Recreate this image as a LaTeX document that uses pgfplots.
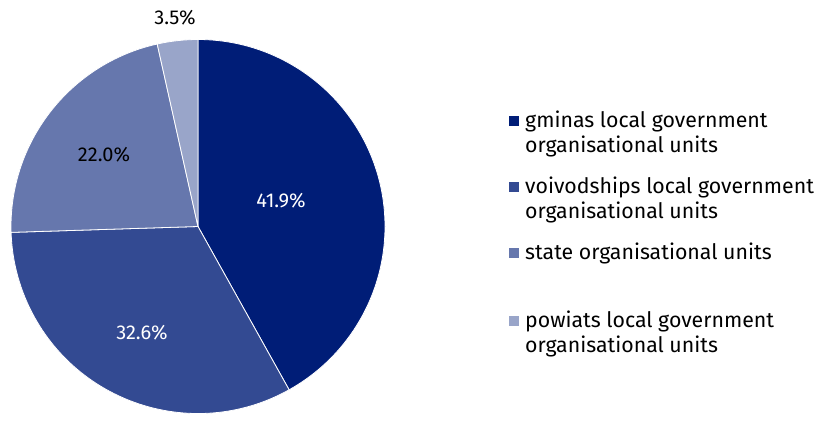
\documentclass[border=0pt]{standalone}
\usepackage{fontspec}
\setmainfont{Fira Sans}
\usepackage{pgfplots}
\usepackage{pgfplotstable}
\pgfplotsset{compat=1.18}
\definecolor{c1}{HTML}{001D77}
\definecolor{c2}{HTML}{334A92}
\definecolor{c3}{HTML}{6677AD}
\definecolor{c4}{HTML}{99A5C9}

% share of units, clockwise from the top
\pgfplotstableread{
v c lx ly tc
41.9 c1 281 211 white
32.6 c2 142 79 white
22.0 c3 104 257 black
3.5 c4 175 394 black
}\piedata

\begin{document}
\begin{tikzpicture}
\begin{axis}[
  scale only axis, width=817pt, height=412pt,
  xmin=0, xmax=817, ymin=0, ymax=412,
  hide axis, clip=false,
  /pgf/number format/assume math mode=true,
]
\pgfplotsextra{
  \path (axis cs:0,0) rectangle (axis cs:817,412);
  \gdef\startang{90}
  \foreach \i in {0,...,3}{
    \pgfplotstablegetelem{\i}{v}\of\piedata \let\val\pgfplotsretval
    \pgfplotstablegetelem{\i}{c}\of\piedata \let\col\pgfplotsretval
    \pgfmathsetmacro\endang{\startang-3.6*\val}
    \fill[\col, draw=white, line width=0.8pt, line join=round]
      (axis cs:198,185.5) -- ++(\startang:187pt)
      arc[start angle=\startang, end angle=\endang, radius=187pt] -- cycle;
    \xdef\startang{\endang}
  }
  \foreach \i in {0,...,3}{
    \pgfplotstablegetelem{\i}{v}\of\piedata \let\val\pgfplotsretval
    \pgfplotstablegetelem{\i}{lx}\of\piedata \let\lx\pgfplotsretval
    \pgfplotstablegetelem{\i}{ly}\of\piedata \let\ly\pgfplotsretval
    \pgfplotstablegetelem{\i}{tc}\of\piedata \let\tc\pgfplotsretval
    \node[text=\tc, font=\fontsize{20}{24}\selectfont]
      at (axis cs:\lx,\ly) {\pgfmathprintnumber[fixed, fixed zerofill, precision=1]{\val}\%};
  }
  % legend
  \begin{scope}[every node/.style={anchor=west, align=left, inner sep=0pt,
      font=\fontsize{21.3}{25}\selectfont}]
    \fill[c1] (axis cs:509,286) rectangle (axis cs:519,296);
    \node[anchor=north west] at (axis cs:525,301) {gminas local government\\organisational units};
    \fill[c2] (axis cs:509,220) rectangle (axis cs:519,230);
    \node[anchor=north west] at (axis cs:525,235) {voivodships local government\\organisational units};
    \fill[c3] (axis cs:509,154) rectangle (axis cs:519,164);
    \node[anchor=north west] at (axis cs:525,169) {state organisational units};
    \fill[c4] (axis cs:509,86) rectangle (axis cs:519,96);
    \node[anchor=north west] at (axis cs:525,101) {powiats local government\\organisational units};
  \end{scope}
}
\end{axis}
\end{tikzpicture}
\end{document}
